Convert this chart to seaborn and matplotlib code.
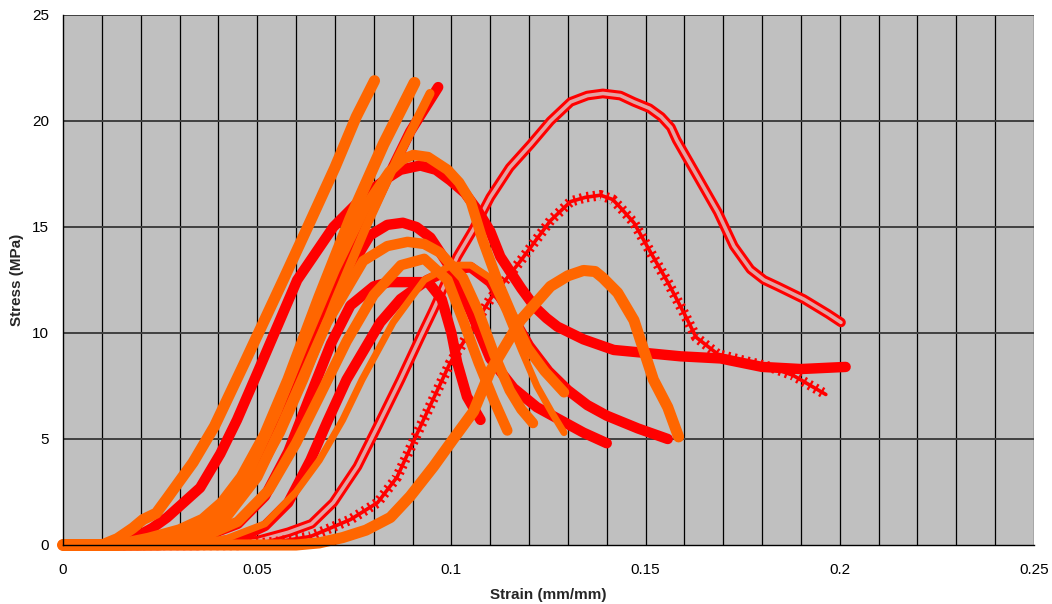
import matplotlib
matplotlib.use("Agg")
import matplotlib.pyplot as plt
import seaborn as sns
import pandas as pd

# Stress-strain curves, strain (mm/mm) and stress (MPa) read per specimen
d_x = [0, 0.01, 0.014, 0.018, 0.0206, 0.024, 0.0268, 0.0335, 0.039, 0.0465, 0.0567, 0.063, 0.070, 0.0755, 0.0802]
d_y = [0, 0, 0.3, 0.8, 1.2, 1.5, 2.2, 3.9, 5.6, 8.5, 12.5, 15.0, 17.8, 20.2, 21.9]

c_x = [0, 0.012, 0.018, 0.023, 0.0268, 0.0353, 0.0405, 0.0448, 0.050, 0.0603, 0.0696, 0.0783, 0.0835,
       0.0869, 0.092, 0.096, 0.0997, 0.1035, 0.1067, 0.1100, 0.1126, 0.118, 0.1216, 0.1245, 0.1273,
       0.134, 0.1418, 0.1505, 0.159, 0.1693, 0.180, 0.190, 0.2015]
c_y = [0, 0, 0.3, 0.8, 1.3, 2.7, 4.3, 5.9, 8.1, 12.5, 15.0, 16.6, 17.3,
       17.7, 17.9, 17.7, 17.2, 16.6, 15.8, 14.8, 13.6, 12.1, 11.2, 10.7, 10.3,
       9.7, 9.2, 9.05, 8.9, 8.8, 8.4, 8.3, 8.4]

e_x = [0, 0.014, 0.022, 0.03, 0.036, 0.041, 0.046, 0.052, 0.058, 0.066, 0.074, 0.0825, 0.0905]
e_y = [0, 0, 0.3, 0.7, 1.2, 2.0, 3.2, 5.2, 7.8, 11.7, 15.4, 18.9, 21.8]

g_x = [0, 0.016, 0.025, 0.033, 0.04, 0.045, 0.05, 0.056, 0.062, 0.07, 0.078, 0.086, 0.0945]
g_y = [0, 0, 0.3, 0.7, 1.3, 2.1, 3.3, 5.3, 7.8, 11.5, 15.0, 18.2, 21.3]

f_x = [0, 0.016, 0.026, 0.035, 0.043, 0.0515, 0.058, 0.064, 0.070, 0.077, 0.083, 0.0894, 0.0966]
f_y = [0, 0, 0.3, 0.8, 1.8, 4.2, 6.8, 9.4, 11.9, 14.8, 17.1, 19.5, 21.6]

h_x = [0, 0.017, 0.03, 0.04, 0.048, 0.055, 0.062, 0.07, 0.078, 0.084, 0.0875, 0.0902, 0.094, 0.099,
       0.102, 0.105, 0.108, 0.112, 0.1155, 0.1196, 0.124, 0.129]
h_y = [0, 0, 0.5, 1.5, 3.5, 6.3, 9.5, 13.0, 16.0, 17.6, 18.2, 18.4, 18.3, 17.7,
       17.1, 16.2, 14.4, 12.4, 10.9, 9.3, 8.2, 7.2]

i_x = [0, 0.02, 0.03, 0.04, 0.048, 0.054, 0.060, 0.066, 0.0714, 0.079, 0.0835, 0.0875, 0.091, 0.0946,
       0.100, 0.105, 0.110, 0.116, 0.122, 0.128, 0.134, 0.140]
i_y = [0, 0, 0.4, 1.2, 2.8, 5.0, 7.6, 10.2, 12.3, 14.6, 15.1, 15.2, 15.0, 14.5,
       13.0, 11.0, 8.8, 7.4, 6.5, 5.9, 5.3, 4.8]

j_x = [0, 0.025, 0.035, 0.045, 0.052, 0.058, 0.064, 0.069, 0.074, 0.080, 0.084, 0.088, 0.094, 0.0975,
       0.100, 0.1015, 0.104, 0.1075]
j_y = [0, 0, 0.3, 1.0, 2.3, 4.4, 7.2, 9.5, 11.3, 12.2, 12.4, 12.4, 12.4, 11.6,
       10.0, 8.6, 7.0, 5.9]

k_x = [0, 0.035, 0.045, 0.052, 0.058, 0.0637, 0.068, 0.073, 0.0817, 0.0869, 0.0938, 0.100, 0.105,
       0.110, 0.115, 0.120, 0.125, 0.130, 0.135, 0.140, 0.148, 0.1557]
k_y = [0, 0, 0.3, 0.9, 2.0, 4.0, 5.8, 7.8, 10.5, 11.6, 12.5, 13.0, 13.1,
       12.4, 11.0, 9.4, 8.2, 7.3, 6.6, 6.1, 5.5, 5.0]

l_x = [0, 0.022, 0.032, 0.042, 0.05, 0.056, 0.062, 0.068, 0.0773, 0.0835, 0.0887, 0.093, 0.097, 0.103,
       0.107, 0.111, 0.115, 0.118, 0.121]
l_y = [0, 0, 0.4, 1.3, 3.2, 5.5, 8.0, 10.5, 13.4, 14.1, 14.3, 14.2, 13.8, 12.6,
       11.0, 9.0, 7.3, 6.4, 5.75]

m_x = [0, 0.025, 0.035, 0.045, 0.053, 0.06, 0.066, 0.073, 0.08, 0.087, 0.093, 0.099, 0.103, 0.107,
       0.111, 0.1144]
m_y = [0, 0, 0.3, 1.1, 2.6, 4.8, 7.0, 9.6, 11.8, 13.2, 13.5, 12.5, 10.6, 8.6,
       6.8, 5.4]

n_x = [0, 0.03, 0.042, 0.052, 0.06, 0.066, 0.072, 0.077, 0.085, 0.093, 0.100, 0.105, 0.110, 0.114,
       0.118, 0.122, 0.126, 0.129]
n_y = [0, 0, 0.3, 1.0, 2.5, 4.0, 5.9, 7.8, 10.5, 12.5, 13.2, 13.2, 12.6, 11.0,
       9.2, 7.5, 6.2, 5.3]

a_x = [0, 0.04, 0.05, 0.058, 0.064, 0.0696, 0.0758, 0.081, 0.0869, 0.092, 0.0954, 0.1015, 0.1057,
       0.110, 0.115, 0.1204, 0.1255, 0.1307, 0.135, 0.139, 0.1435, 0.147, 0.151, 0.154, 0.1565, 0.158,
       0.163, 0.1686, 0.1727, 0.177, 0.1805, 0.184, 0.1907, 0.197, 0.2003]
a_y = [0, 0, 0.2, 0.6, 1.0, 2.0, 3.7, 5.6, 7.8, 9.8, 11.1, 13.6, 14.9,
       16.4, 17.8, 18.9, 20.0, 20.9, 21.2, 21.3, 21.2, 20.9, 20.6, 20.2, 19.7, 19.1,
       17.5, 15.7, 14.1, 13.0, 12.5, 12.2, 11.6, 10.9, 10.5]

b_x = [0, 0.045, 0.055, 0.0637, 0.074, 0.081, 0.086, 0.090, 0.0946, 0.0997, 0.105, 0.110, 0.1178,
       0.1255, 0.1307, 0.1345, 0.1384, 0.1415, 0.1436, 0.147, 0.1513, 0.1557, 0.160, 0.163, 0.1686,
       0.175, 0.182, 0.188, 0.1964]
b_y = [0, 0, 0.15, 0.4, 1.2, 2.0, 3.2, 4.8, 6.6, 8.6, 10.1, 11.6, 13.4,
       15.3, 16.2, 16.4, 16.5, 16.3, 15.9, 15.2, 13.8, 12.4, 10.9, 9.8, 9.0,
       8.7, 8.4, 8.0, 7.1]

p_x = [0, 0.06, 0.066, 0.072, 0.078, 0.0843, 0.0894, 0.0954, 0.1005, 0.1057, 0.110, 0.1178, 0.1255,
       0.130, 0.134, 0.137, 0.139, 0.1428, 0.147, 0.1495, 0.152, 0.1557, 0.1585]
p_y = [0, 0, 0.1, 0.35, 0.7, 1.3, 2.3, 3.7, 5.0, 6.3, 8.2, 10.6, 12.2,
       12.7, 12.95, 12.9, 12.6, 11.9, 10.6, 9.2, 7.8, 6.5, 5.1]

x_ticks = [0, 0.05, 0.1, 0.15, 0.2, 0.25]
x_tick_labels = ["0", "0.05", "0.1", "0.15", "0.2", "0.25"]
y_ticks = [0, 5, 10, 15, 20, 25]

RED = "#FF0000"
ORANGE = "#FF6600"

sns.set_style("white")
plt.rcParams["font.family"] = ["Liberation Sans", "DejaVu Sans"]

fig = plt.figure(figsize=(10.52, 6.04), dpi=100)
ax = fig.add_axes([63 / 1052, 1 - 545 / 604, (1034 - 63) / 1052, (545 - 15) / 604])
ax.set_facecolor("#C0C0C0")


def band(xs, ys, color, lw=7.0, **kw):
    df = pd.DataFrame({"strain": xs, "stress": ys})
    sns.lineplot(data=df, x="strain", y="stress", ax=ax, color=color, linewidth=lw,
                 sort=False, estimator=None, clip_on=False, solid_joinstyle="round",
                 solid_capstyle="round", **kw)


# open-circle series: ring band with a lighter core
band(a_x, a_y, RED, lw=7.0, zorder=3)
band(a_x, a_y, "#E3A3A3", lw=2.6, zorder=3)

# cross-marker series: core line with dense perpendicular ticks
band(b_x, b_y, RED, lw=2.6, zorder=3)
band(b_x, b_y, RED, lw=7.5, linestyle=(0, (0.22, 0.42)), zorder=3)

# solid red series
for xs, ys in [(c_x, c_y), (f_x, f_y), (i_x, i_y), (j_x, j_y), (k_x, k_y)]:
    band(xs, ys, RED, lw=7.5, zorder=3)

# orange series
for xs, ys, lw in [(p_x, p_y, 8.0), (n_x, n_y, 5.0), (m_x, m_y, 7.5), (l_x, l_y, 7.5),
                   (h_x, h_y, 7.5), (g_x, g_y, 6.5), (e_x, e_y, 8.5), (d_x, d_y, 8.0)]:
    band(xs, ys, ORANGE, lw=lw, zorder=4)

ax.set_xlim(0, 0.25)
ax.set_ylim(0, 25)
ax.set_xticks(x_ticks)
ax.set_xticklabels(x_tick_labels)
ax.set_xticks([i / 100 for i in range(26)], minor=True)
ax.set_yticks(y_ticks)

ax.grid(False)
for xv in [i / 100 for i in range(1, 26)]:
    ax.axvline(xv, color="#000000", lw=0.9, zorder=1)
for yv in y_ticks[1:]:
    ax.axhline(yv, color="#404040", lw=1.4, zorder=1)

ax.tick_params(axis="both", which="both", direction="out", length=5, width=1,
               color="#000000", labelsize=11, labelcolor="#000000")
ax.tick_params(axis="x", pad=8)
ax.tick_params(axis="y", pad=5)

for side in ["top", "right"]:
    ax.spines[side].set_visible(False)
for side in ["left", "bottom"]:
    ax.spines[side].set_color("#000000")
    ax.spines[side].set_linewidth(1.0)
    ax.spines[side].set_zorder(5)

ax.set_xlabel("Strain (mm/mm)", fontsize=11, fontweight="bold", labelpad=8)
ax.set_ylabel("Stress (MPa)", fontsize=11, fontweight="bold", labelpad=6)

fig.savefig("out.png", dpi=100, facecolor="white")
